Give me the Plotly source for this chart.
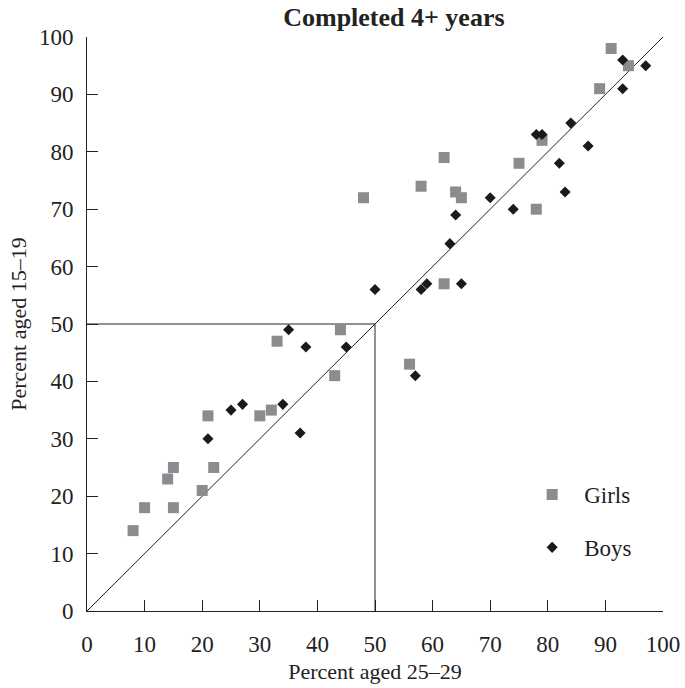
import plotly.graph_objects as go

# Girls (squares)
girls_x = [8, 10, 14, 15, 15, 20, 21, 22, 30, 32, 33, 43, 44, 48, 56, 58, 62, 62, 64, 65, 75, 78, 79, 89, 91, 94]
girls_y = [14, 18, 23, 25, 18, 21, 34, 25, 34, 35, 47, 41, 49, 72, 43, 74, 79, 57, 73, 72, 78, 70, 82, 91, 98, 95]

# Boys (diamonds)
boys_x = [21, 25, 27, 34, 35, 37, 38, 45, 50, 57, 58, 59, 63, 64, 65, 70, 74, 78, 79, 82, 83, 84, 87, 93, 93, 97]
boys_y = [30, 35, 36, 36, 49, 31, 46, 46, 56, 41, 56, 57, 64, 69, 57, 72, 70, 83, 83, 78, 73, 85, 81, 96, 91, 95]

tick_vals = list(range(0, 101, 10))
ref_level = 50
axis_max = 100

FONT = "Liberation Serif, Times New Roman, serif"
INK = "#222222"

fig = go.Figure()
fig.add_trace(go.Scatter(
    x=girls_x, y=girls_y, mode="markers", name="Girls", legendgroup="g",
    marker=dict(symbol="square", size=11, color="#8c8c90", line=dict(width=0)),
))
fig.add_trace(go.Scatter(
    x=boys_x, y=boys_y, mode="markers", name="Boys", legendgroup="b",
    marker=dict(symbol="diamond", size=8.5, color="#1a1a1a", line=dict(width=0)),
))

line_style = dict(color=INK, width=1)
fig.add_shape(type="line", x0=0, y0=0, x1=axis_max, y1=axis_max, xref="x", yref="y", line=line_style, layer="below")
fig.add_shape(type="line", x0=0, y0=ref_level, x1=ref_level, y1=ref_level, xref="x", yref="y", line=line_style, layer="below")
fig.add_shape(type="line", x0=ref_level, y0=0, x1=ref_level, y1=ref_level, xref="x", yref="y", line=line_style, layer="below")

fig.update_layout(
    width=685, height=688,
    margin=dict(l=87, r=22, t=37, b=77, autoexpand=False),
    paper_bgcolor="white", plot_bgcolor="white",
    font=dict(family=FONT, size=23, color=INK),
    title=dict(text="<b>Completed 4+ years</b>", x=0.575, xanchor="center", y=0.976, yanchor="middle",
               font=dict(family=FONT, size=26, color=INK)),
    showlegend=True,
    legend=dict(x=0.752, y=0.2404, xanchor="left", yanchor="top", bgcolor="rgba(0,0,0,0)",
                font=dict(family=FONT, size=23, color=INK),
                traceorder="grouped", tracegroupgap=20, itemsizing="trace", itemwidth=54),
    xaxis=dict(range=[0, axis_max], tickvals=tick_vals, ticks="inside", ticklen=11, tickcolor=INK,
               showline=True, linecolor=INK, linewidth=1, showgrid=False, zeroline=False, automargin=False,
               title=dict(text="Percent aged 25–29", standoff=8, font=dict(family=FONT, size=22)),
               tickfont=dict(family=FONT, size=23), ticklabelstandoff=12),
    yaxis=dict(range=[0, axis_max], tickvals=tick_vals, ticks="inside", ticklen=11, tickcolor=INK,
               showline=True, linecolor=INK, linewidth=1, showgrid=False, zeroline=False, automargin=False,
               title=dict(text="Percent aged 15–19", standoff=6, font=dict(family=FONT, size=22)),
               tickfont=dict(family=FONT, size=23), ticklabelstandoff=8),
)

fig.write_html("out.html")
